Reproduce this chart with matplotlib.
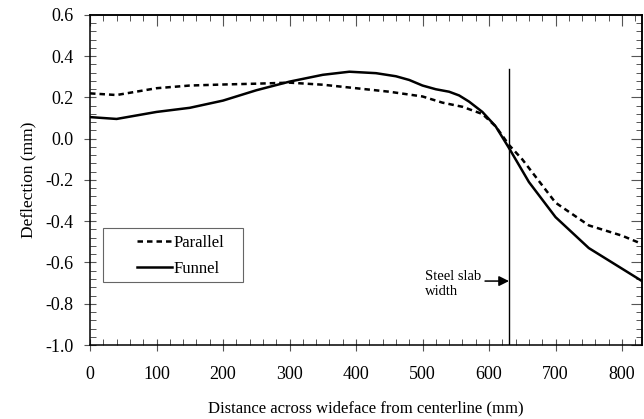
import matplotlib
matplotlib.use("Agg")
import matplotlib.pyplot as plt
from matplotlib.ticker import MultipleLocator, FormatStrFormatter
from matplotlib.patches import Rectangle

plt.rcParams['font.family'] = ['Liberation Serif', 'DejaVu Serif']
plt.rcParams['axes.unicode_minus'] = False

# Data
x_parallel = [0, 40, 100, 150, 200, 250, 300, 350, 400, 450, 500, 530, 560, 590,
              610, 630, 650, 700, 750, 800, 830]
y_parallel = [0.22, 0.212, 0.245, 0.258, 0.263, 0.267, 0.272, 0.262, 0.245, 0.228,
              0.205, 0.175, 0.155, 0.12, 0.06, -0.03, -0.10, -0.31, -0.42, -0.47, -0.51]

x_funnel = [0, 40, 100, 150, 200, 250, 300, 350, 390, 430, 460, 480, 500, 520, 540,
            555, 570, 590, 610, 630, 660, 700, 750, 800, 830]
y_funnel = [0.105, 0.096, 0.13, 0.15, 0.185, 0.235, 0.277, 0.31, 0.325, 0.318, 0.303,
            0.285, 0.258, 0.24, 0.228, 0.21, 0.18, 0.13, 0.06, -0.045, -0.21, -0.38,
            -0.53, -0.63, -0.69]

slab_x = 630
slab_top = 0.34
arrow_y = -0.69
arrow_tail_x = 594

fig = plt.figure(figsize=(6.44, 4.19), dpi=100)
ax = fig.add_axes([90/644, 1 - 345/419, 552/644, 330/419])

ax.plot(x_parallel, y_parallel, color='black', lw=1.8, linestyle=(0, (2.2, 1.6)),
        label='Parallel')
ax.plot(x_funnel, y_funnel, color='black', lw=1.8, label='Funnel')
ax.plot([slab_x, slab_x], [slab_top, -1.0], color='black', lw=1.0)

ax.annotate('', xy=(slab_x, arrow_y), xytext=(arrow_tail_x, arrow_y),
            arrowprops=dict(arrowstyle='-|>', color='black', lw=1.1,
                            mutation_scale=15, shrinkA=0, shrinkB=0))
ax.text(504, -0.705, 'Steel slab\nwidth', fontsize=10.5, ha='left', va='center',
        linespacing=1.15)

ax.set_xlim(0, 830)
ax.set_ylim(-1.0, 0.6)
ax.xaxis.set_major_locator(MultipleLocator(100))
ax.xaxis.set_minor_locator(MultipleLocator(20))
ax.yaxis.set_major_locator(MultipleLocator(0.2))
ax.yaxis.set_minor_locator(MultipleLocator(0.04))
ax.yaxis.set_major_formatter(FormatStrFormatter('%.1f'))

tick_col = '#555555'
ax.tick_params(which='major', direction='inout', length=8, width=0.8, color=tick_col,
               labelsize=13, pad=8)
ax.tick_params(which='minor', direction='in', length=4, width=0.7, color=tick_col)
ax.tick_params(axis='x', which='major', pad=11)

for s in ax.spines.values():
    s.set_linewidth(1.1)

secx = ax.secondary_xaxis('top')
secx.xaxis.set_major_locator(MultipleLocator(100))
secx.xaxis.set_minor_locator(MultipleLocator(20))
secx.tick_params(which='major', direction='in', length=8, width=0.8, color=tick_col,
                 labeltop=False)
secx.tick_params(which='minor', direction='in', length=4, width=0.7, color=tick_col)
secx.spines['top'].set_linewidth(1.1)

secy = ax.secondary_yaxis('right')
secy.yaxis.set_major_locator(MultipleLocator(0.2))
secy.yaxis.set_minor_locator(MultipleLocator(0.04))
secy.tick_params(which='major', direction='in', length=8, width=0.8, color=tick_col,
                 labelright=False)
secy.tick_params(which='minor', direction='in', length=4, width=0.7, color=tick_col)
secy.spines['right'].set_linewidth(1.1)

ax.set_xlabel('Distance across wideface from centerline (mm)', fontsize=12, labelpad=13)
ax.set_ylabel('Deflection (mm)', fontsize=12.5, labelpad=6)

# legend box
ax.add_patch(Rectangle((13/552, 63.3/330), 140/552, 53.7/330, transform=ax.transAxes,
                       fill=True, facecolor='white', edgecolor='#666666', lw=0.8,
                       zorder=4))
leg = ax.legend(loc='upper left', bbox_to_anchor=(47/552, 110/330), fontsize=12,
                frameon=False, borderpad=0, borderaxespad=0,
                handlelength=2.1, handletextpad=0.12, labelspacing=0.58)
leg.set_zorder(5)

fig.savefig('out.png', dpi=100)
